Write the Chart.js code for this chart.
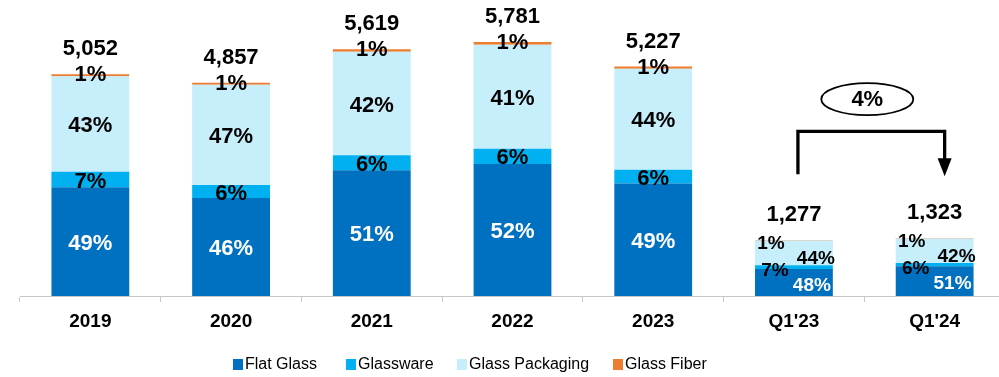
<!DOCTYPE html>
<html>
<head>
<meta charset="utf-8">
<script src="https://cdn.jsdelivr.net/npm/chart.js@4.4.1/dist/chart.umd.min.js"></script>
<style>
  html, body { margin: 0; padding: 0; background: #fff; overflow: hidden; }
  #wrap { position: relative; width: 1005px; height: 377px; }
  .lg { position: absolute; top: 355px; font: 16px "Liberation Sans", Arial, sans-serif; color: #000; white-space: nowrap; line-height: 18px; }
  .lg i { display: inline-block; width: 10px; height: 11px; margin-right: 2px; vertical-align: -1px; }
</style>
</head>
<body>
<div id="wrap">
  <canvas id="glassChart" width="1005" height="377"></canvas>
  <div class="lg" style="left:233px"><i style="background:#0070C0"></i>Flat Glass</div>
  <div class="lg" style="left:346px"><i style="background:#00B0F0"></i>Glassware</div>
  <div class="lg" style="left:457px"><i style="background:#C6EEFB"></i>Glass Packaging</div>
  <div class="lg" style="left:613px"><i style="background:#ED7D31"></i>Glass Fiber</div>
</div>
<script>
// データ
const categories = ['2019', '2020', '2021', '2022', '2023', "Q1'23", "Q1'24"];
const totals = [5052, 4857, 5619, 5781, 5227, 1277, 1323];
const flatGlassPct = [49, 46, 51, 52, 49, 48, 51];
const glasswarePct = [7, 6, 6, 6, 6, 7, 6];
const packagingPct = [43, 47, 42, 41, 44, 44, 42];
const fiberPct = [1, 1, 1, 1, 1, 1, 1];
const changeLabel = '4%';

const FONT = '"Liberation Sans", Arial, sans-serif';

// 構成比から各セグメントの値を求める
function segment(pcts) {
    return pcts.map((p, i) => totals[i] * p / 100);
}

// ラベル描画プラグイン
const labelPlugin = {
    id: 'segLabels',
    afterDatasetsDraw(chart) {
        const ctx = chart.ctx;
        const metas = [0, 1, 2, 3].map(d => chart.getDatasetMeta(d));
        const pcts = [flatGlassPct, glasswarePct, packagingPct, fiberPct];
        ctx.save();
        ctx.textAlign = 'center';
        ctx.textBaseline = 'middle';
        categories.forEach((c, i) => {
            const bars = metas.map(m => m.data[i]);
            const top = bars[3].y;
            const left = bars[0].x - bars[0].width / 2;
            const right = bars[0].x + bars[0].width / 2;
            const mid = b => (b.y + b.base) / 2;
            const small = (bars[0].base - top) < 80;
            const txt = (d) => pcts[d][i] + '%';

            if (!small) {
                ctx.font = 'bold 22px ' + FONT;
                ctx.fillStyle = '#fff';
                ctx.fillText(txt(0), bars[0].x, mid(bars[0]) + 2);
                ctx.fillStyle = '#000';
                ctx.fillText(txt(1), bars[1].x, mid(bars[1]) + 2);
                ctx.fillText(txt(2), bars[2].x, mid(bars[2]) + 2);
                ctx.fillText(txt(3), bars[3].x, top + 1);
            } else {
                ctx.font = 'bold 19px ' + FONT;
                ctx.fillStyle = '#000';
                ctx.fillText(txt(3), left + 16, top + 4);
                ctx.fillText(txt(2), right - 17, mid(bars[2]) + 6);
                ctx.fillText(txt(1), left + 20, mid(bars[1]) + 4);
                ctx.fillStyle = '#fff';
                ctx.fillText(txt(0), right - 21, mid(bars[0]) + 3);
            }
            ctx.font = 'bold 22px ' + FONT;
            ctx.fillStyle = '#000';
            ctx.fillText(totals[i].toLocaleString('en-US'), bars[0].x, top - 25);
        });
        ctx.restore();
    }
};

// Q1'23 → Q1'24 の増加率の矢印
const arrowPlugin = {
    id: 'changeArrow',
    afterDraw(chart) {
        const ctx = chart.ctx;
        const xs = chart.scales.x, ys = chart.scales.y;
        const x1 = xs.getPixelForValue(5) + 4;
        const x2 = xs.getPixelForValue(6) + 10;
        const yTop = ys.getPixelForValue(3750);
        const yLow = ys.getPixelForValue(2770);
        const yTip = ys.getPixelForValue(2727);
        ctx.save();
        ctx.strokeStyle = '#000';
        ctx.fillStyle = '#000';
        ctx.lineWidth = 3.3;
        ctx.lineJoin = 'miter';
        ctx.beginPath();
        ctx.moveTo(x1, yLow);
        ctx.lineTo(x1, yTop);
        ctx.lineTo(x2, yTop);
        ctx.lineTo(x2, yTip - 17);
        ctx.stroke();
        ctx.beginPath();
        ctx.moveTo(x2 - 7, yTip - 18);
        ctx.lineTo(x2 + 7, yTip - 18);
        ctx.lineTo(x2, yTip);
        ctx.closePath();
        ctx.fill();

        const cx = (x1 + x2) / 2 - 4;
        const cy = ys.getPixelForValue(4482);
        ctx.lineWidth = 1.8;
        ctx.beginPath();
        ctx.ellipse(cx, cy, 46, 16, 0, 0, Math.PI * 2);
        ctx.stroke();
        ctx.font = 'bold 22px ' + FONT;
        ctx.textAlign = 'center';
        ctx.textBaseline = 'middle';
        ctx.fillText(changeLabel, cx, cy + 1);
        ctx.restore();
    }
};

new Chart(document.getElementById('glassChart').getContext('2d'), {
    type: 'bar',
    data: {
        labels: categories,
        datasets: [
            { label: 'Flat Glass', data: segment(flatGlassPct), backgroundColor: '#0070C0' },
            { label: 'Glassware', data: segment(glasswarePct), backgroundColor: '#00B0F0' },
            { label: 'Glass Packaging', data: segment(packagingPct), backgroundColor: '#C6EEFB' },
            { label: 'Glass Fiber', data: segment(fiberPct), backgroundColor: '#ED7D31' }
        ]
    },
    options: {
        responsive: false,
        animation: false,
        layout: { padding: { left: 20, right: 0, top: 0, bottom: 0 } },
        datasets: { bar: { categoryPercentage: 1, barPercentage: 0.553 } },
        plugins: { legend: { display: false }, tooltip: { enabled: false } },
        scales: {
            x: {
                stacked: true,
                afterFit: s => { s.height = 81; },
                grid: { offset: true, drawOnChartArea: false, drawTicks: true, tickLength: 6, color: '#c8c8c8' },
                border: { color: '#c8c8c8', width: 1 },
                ticks: { color: '#000', padding: 8, font: { family: FONT, size: 19, weight: 'bold' } }
            },
            y: {
                stacked: true,
                display: false,
                min: 0,
                max: 6740
            }
        }
    },
    plugins: [labelPlugin, arrowPlugin]
});
</script>
</body>
</html>
